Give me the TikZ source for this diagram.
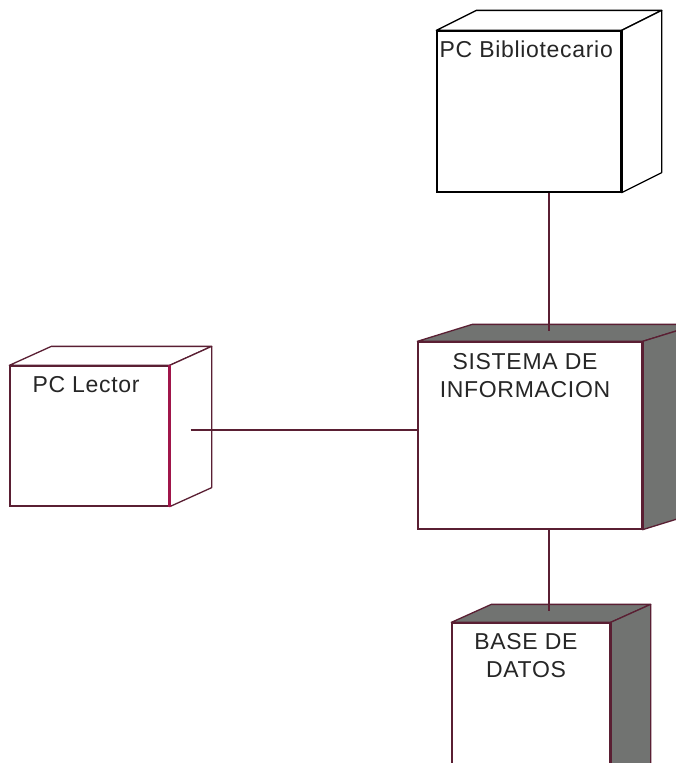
\documentclass[tikz,border=0pt]{standalone}
\usepackage{fontspec}
\setmainfont[LetterSpace=3]{Liberation Sans}
\usetikzlibrary{positioning,calc}
\definecolor{granate}{HTML}{5A1F33}
\definecolor{carmesi}{HTML}{A0154A}
\definecolor{gris}{HTML}{717371}
\definecolor{texto}{HTML}{262626}

\tikzset{
  cara/.style={draw=#1,line width=1.3pt,fill=white,inner sep=0pt},
  etiqueta/.style={inner sep=0pt,text=texto,font=\fontsize{23}{28}\selectfont,align=center}
}
\newcommand{\caja}[5]{%
  \filldraw[draw=#4,fill=#5,line width=1.3pt,line join=round]
    (#1.north west) -- ++(#2,#3) -- ($(#1.north east)+(#2,#3)$) -- (#1.north east) -- cycle;
  \filldraw[draw=#4,fill=#5,line width=1.3pt,line join=round]
    (#1.north east) -- ++(#2,#3) -- ($(#1.south east)+(#2,#3)$) -- (#1.south east) -- cycle;
}

\begin{document}
\begin{tikzpicture}[x=1pt,y=1pt]
  \clip (0,0) rectangle (676,-763);
  \fill[white] (0,0) rectangle (676,-763);

  \node[cara=black,minimum width=184pt,minimum height=161pt] (biblio) at (529,-111.5) {};
  \node[cara=granate,minimum width=159pt,minimum height=140pt] (lector) at (89.5,-436) {};
  \node[cara=granate,minimum width=224pt,minimum height=187pt] (sistema) at (530,-435.5) {};
  \node[cara=granate,minimum width=158pt,minimum height=177pt] (base) at (531,-711.5) {};

  \caja{biblio}{40}{20}{black}{white}
  \caja{lector}{42}{19}{granate}{white}
  \caja{sistema}{55}{17}{granate}{gris}
  \caja{base}{40}{18}{granate}{gris}

  \draw[black,line width=3pt] (biblio.north east) -- (biblio.south east);
  \draw[carmesi,line width=3pt] (lector.north east) -- (lector.south east);
  \draw[granate,line width=3pt] (sistema.north east) -- (sistema.south east);
  \draw[granate,line width=3pt] (base.north east) -- (base.south east);

  \node[etiqueta,anchor=base west] (t-biblio) at ([xshift=3pt,yshift=-27pt]biblio.north west) {PC Bibliotecario};
  \node[etiqueta,anchor=base west] (t-lector) at ([xshift=23pt,yshift=-27pt]lector.north west) {PC Lector};
  \node[etiqueta,anchor=north] (t-sistema) at ([xshift=-5pt,yshift=-12pt]sistema.north) {SISTEMA DE\\INFORMACION};
  \node[etiqueta,anchor=north] (t-base) at ([xshift=-5pt,yshift=-11pt]base.north) {BASE DE\\DATOS};

  \coordinate (lc) at ([xshift=21pt,yshift=6pt]lector.east);
  \draw[granate,line width=1.2pt] ([xshift=20pt]biblio.south) -- ([xshift=19pt,yshift=10pt]sistema.north);
  \draw[granate,line width=1.2pt] (lc) -- (lc -| sistema.west);
  \draw[granate,line width=1.2pt] ([xshift=19pt]sistema.south) -- ([xshift=18pt,yshift=11pt]base.north);
\end{tikzpicture}
\end{document}
